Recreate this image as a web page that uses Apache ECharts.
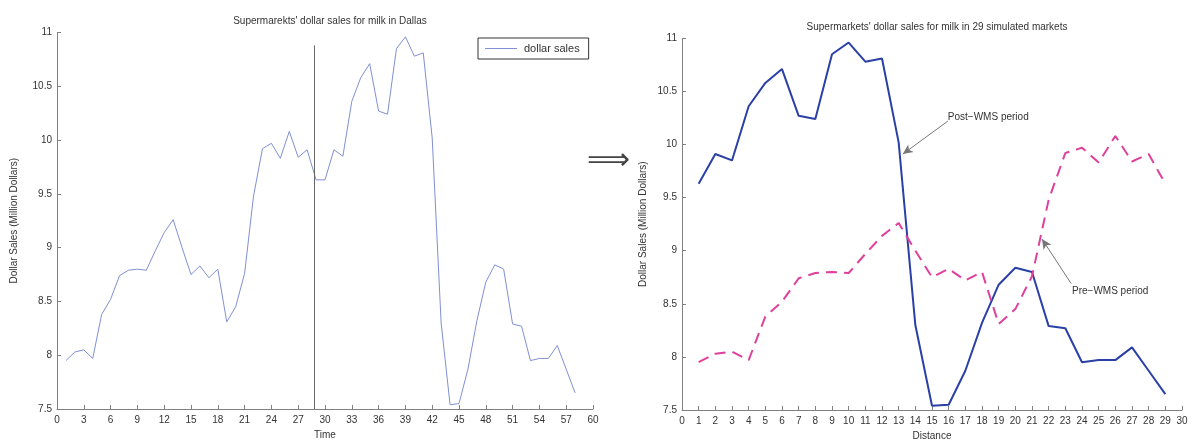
<!DOCTYPE html>
<html><head><meta charset="utf-8">
<script src="https://cdn.jsdelivr.net/npm/echarts@6/dist/echarts.min.js"></script>
<style>html,body{margin:0;padding:0;background:#fff}#c{width:1193px;height:446px}</style>
</head><body><div id="c"></div>
<script>
// Pre-WMS period (time 1..29) and Post-WMS period (time 30..58), million dollars
const preWMS = [7.95, 8.03, 8.05, 7.97, 8.38, 8.52, 8.74, 8.79, 8.80, 8.79,
                8.97, 9.14, 9.26, 9.00, 8.75, 8.83, 8.72, 8.80, 8.31, 8.45,
                8.76, 9.48, 9.92, 9.97, 9.83, 10.08, 9.84, 9.91, 9.63];
const postWMS = [9.63, 9.91, 9.85, 10.36, 10.58, 10.71, 10.27, 10.24, 10.85, 10.96,
                 10.78, 10.81, 10.02, 8.30, 7.54, 7.55, 7.87, 8.32, 8.68, 8.84,
                 8.80, 8.29, 8.27, 7.95, 7.97, 7.97, 8.09, 7.87, 7.65];
const distance = [1,2,3,4,5,6,7,8,9,10,11,12,13,14,15,16,17,18,19,20,21,22,23,24,25,26,27,28,29];
const time = [1,2,3,4,5,6,7,8,9,10,11,12,13,14,15,16,17,18,19,20,21,22,23,24,25,26,27,28,29,
              30,31,32,33,34,35,36,37,38,39,40,41,42,43,44,45,46,47,48,49,50,51,52,53,54,55,56,57,58];
const dallasSales = preWMS.concat(postWMS);
const breakTime = 28.8;
const breakTop = 10.88;

const FONT = 'Liberation Sans, Arial, sans-serif';
const TXT = '#333';
const AX = '#808080';

function yAxisCfg(gi) {
  return {
    type: 'value', gridIndex: gi, min: 7.5, max: 11, interval: 0.5,
    name: 'Dollar Sales (Million Dollars)', nameLocation: 'middle',
    nameGap: gi === 0 ? 38 : 34, nameRotate: 90,
    nameTextStyle: {fontFamily: FONT, fontSize: 10, color: TXT},
    axisLine: {show: true, lineStyle: {color: AX, width: 1}},
    axisTick: {show: true, inside: true, length: 4, lineStyle: {color: AX}},
    axisLabel: {fontFamily: FONT, fontSize: 10, color: TXT, margin: 5},
    splitLine: {show: false}
  };
}
function xAxisCfg(gi, max, interval, name) {
  return {
    type: 'value', gridIndex: gi, min: 0, max: max, interval: interval,
    name: name, nameLocation: 'middle', nameGap: 21,
    nameTextStyle: {fontFamily: FONT, fontSize: 10, color: TXT},
    axisLine: {show: true, onZero: false, lineStyle: {color: AX, width: 1}},
    axisTick: {show: true, inside: true, length: 4, lineStyle: {color: AX}},
    axisLabel: {fontFamily: FONT, fontSize: 10, color: TXT, margin: 6},
    splitLine: {show: false}
  };
}

const chart = echarts.init(document.getElementById('c'), null, {renderer: 'canvas'});
chart.setOption({
  animation: false,
  backgroundColor: '#fff',
  title: [
    {text: "Supermarekts' dollar sales for milk in Dallas", left: 325, top: 11, textAlign: 'center',
     textStyle: {fontFamily: FONT, fontSize: 10, fontWeight: 'normal', color: TXT}},
    {text: "Supermarkets' dollar sales for milk in 29 simulated markets", left: 932, top: 17, textAlign: 'center',
     textStyle: {fontFamily: FONT, fontSize: 10, fontWeight: 'normal', color: TXT}}
  ],
  legend: {
    data: [{name: 'dollar sales', icon: 'rect'}], left: 478, top: 38, orient: 'vertical',
    borderColor: '#333', borderWidth: 1, padding: [5, 9, 5, 7],
    itemWidth: 32, itemHeight: 1, itemGap: 4,
    textStyle: {fontFamily: FONT, fontSize: 11, color: TXT, padding: [0, 0, 0, 2]}
  },
  grid: [
    {left: 57, right: 600, top: 32.5, bottom: 37},
    {left: 682, right: 11, top: 38.3, bottom: 34}
  ],
  xAxis: [xAxisCfg(0, 60, 3, 'Time'), xAxisCfg(1, 30, 1, 'Distance')],
  yAxis: [yAxisCfg(0), yAxisCfg(1)],
  graphic: [
    {type: 'text', left: 587, top: 146,
     style: {text: '\u27F9', font: '30px DejaVu Sans', fill: '#444'}}
  ],
  series: [
    {
      name: 'dollar sales', type: 'line', xAxisIndex: 0, yAxisIndex: 0,
      data: time.map((t, i) => [t, dallasSales[i]]),
      showSymbol: false, symbol: 'none',
      lineStyle: {color: '#8090d4', width: 1}, itemStyle: {color: '#8090d4'},
      markLine: {
        silent: true, symbol: 'none', label: {show: false},
        lineStyle: {color: '#666', width: 1, type: 'solid'},
        data: [[{coord: [breakTime, 7.5]}, {coord: [breakTime, breakTop]}]]
      }
    },
    {
      name: 'Post-WMS period', type: 'line', xAxisIndex: 1, yAxisIndex: 1,
      data: distance.map((d, i) => [d, postWMS[i]]),
      showSymbol: false, symbol: 'none',
      lineStyle: {color: '#2b40a6', width: 2}, itemStyle: {color: '#2b40a6'},
      markLine: {
        silent: true, symbol: ['none', 'arrow'], symbolSize: [7, 10], label: {show: false},
        lineStyle: {color: '#777', width: 1, type: 'solid'},
        data: [[{coord: [15.95, 10.22]}, {coord: [13.25, 9.91]}]]
      },
      markPoint: {
        silent: true, symbol: 'circle', symbolSize: 0,
        label: {show: true, position: 'right', distance: 0, formatter: 'Post\u2212WMS period',
                fontFamily: FONT, fontSize: 10, color: TXT},
        data: [{coord: [15.95, 10.26]}]
      }
    },
    {
      name: 'Pre-WMS period', type: 'line', xAxisIndex: 1, yAxisIndex: 1,
      data: distance.map((d, i) => [d, preWMS[i]]),
      showSymbol: false, symbol: 'none',
      lineStyle: {color: '#e0409c', width: 2, type: [11, 7]}, itemStyle: {color: '#e0409c'},
      markLine: {
        silent: true, symbol: ['none', 'arrow'], symbolSize: [7, 10], label: {show: false},
        lineStyle: {color: '#777', width: 1, type: 'solid'},
        data: [[{coord: [23.35, 8.69]}, {coord: [21.6, 9.11]}]]
      },
      markPoint: {
        silent: true, symbol: 'circle', symbolSize: 0,
        label: {show: true, position: 'right', distance: 0, formatter: 'Pre\u2212WMS period',
                fontFamily: FONT, fontSize: 10, color: TXT},
        data: [{coord: [23.4, 8.62]}]
      }
    }
  ]
});
</script>
</body></html>
